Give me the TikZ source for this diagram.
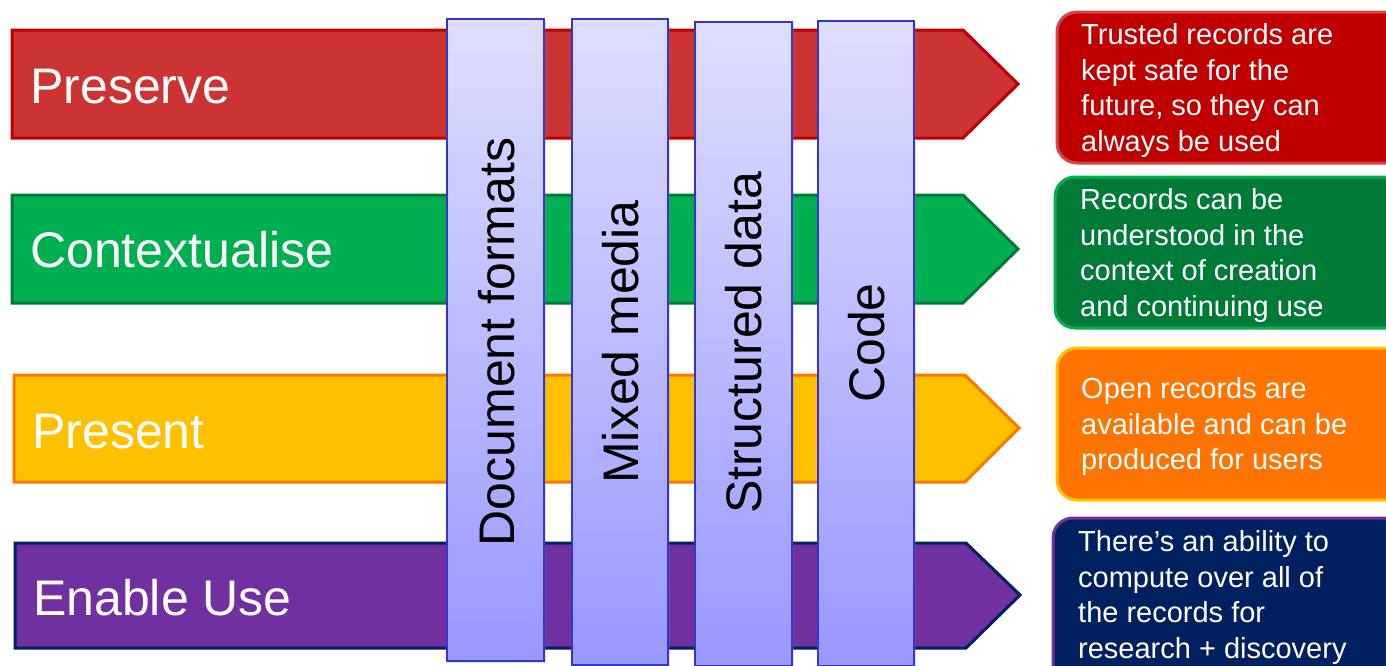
\documentclass[tikz,border=0pt]{standalone}
\usepackage{fontspec}
\setmainfont{Liberation Sans}
\usetikzlibrary{shadows}
\definecolor{redfill}{HTML}{CC3333}
\definecolor{redline}{HTML}{C00000}
\definecolor{grnfill}{HTML}{00B050}
\definecolor{grnline}{HTML}{007A37}
\definecolor{yelfill}{HTML}{FFC000}
\definecolor{orgline}{HTML}{FF7700}
\definecolor{orgfill}{HTML}{FF7300}
\definecolor{purfill}{HTML}{7030A0}
\definecolor{navy}{HTML}{002060}
\definecolor{redbox}{HTML}{C00000}
\definecolor{redboxline}{HTML}{D04848}
\definecolor{bartop}{HTML}{DEDEFF}
\definecolor{barbot}{HTML}{9898FF}
\definecolor{barline}{HTML}{3535CC}
\tikzset{
  band/.style={line width=3pt, line join=miter},
  bandlabel/.style={anchor=base west, inner sep=0pt, text=white, font=\fontsize{50}{60}\selectfont},
  barbox/.style={rectangle, draw=barline, line width=2.5pt, top color=bartop, bottom color=barbot, inner sep=0pt,
     drop shadow={shadow xshift=2pt, shadow yshift=-2pt, opacity=0.25}},
  barlabel/.style={rotate=90, inner sep=0pt, text=black, font=\fontsize{50}{60}\selectfont},
  infobox/.style={line width=3pt, rounded corners=20pt},
  infotext/.style={anchor=north west, inner sep=0pt, align=left, text=white, font=\fontsize{29}{35.5}\selectfont}
}
\begin{document}
\begin{tikzpicture}[x=1pt, y=-1pt]
\useasboundingbox (0,0) rectangle (1386,665);
\clip (0,0) rectangle (1386,665);
% bands
\draw[band, fill=redfill, draw=redline] (12,30) -- (963,30) -- (1018,84) -- (963,138) -- (12,138) -- cycle;
\draw[band, fill=grnfill, draw=grnline] (12,195) -- (963,195) -- (1018,249) -- (963,303) -- (12,303) -- cycle;
\draw[band, fill=yelfill, draw=orgline] (14,375) -- (965,375) -- (1019,428) -- (965,482) -- (14,482) -- cycle;
\draw[band, fill=purfill, draw=navy] (15,543) -- (966,543) -- (1020,595) -- (966,648) -- (15,648) -- cycle;
\node[bandlabel] (lpreserve) at (30,103) {Preserve};
\node[bandlabel] (lcontext) at (30,267) {Contextualise};
\node[bandlabel] (lpresent) at (32,448) {Present};
\node[bandlabel] (lenable) at (33,615) {Enable Use};
% vertical bars
\node[barbox, minimum width=97pt, minimum height=642pt] (b1) at (495.5,340) {};
\node[barbox, minimum width=96pt, minimum height=646pt] (b2) at (620,342) {};
\node[barbox, minimum width=97pt, minimum height=644pt] (b3) at (743.5,344) {};
\node[barbox, minimum width=96pt, minimum height=645pt] (b4) at (866,343.5) {};
\node[barlabel] (t1) at (497,342) {Document formats};
\node[barlabel] (t2) at (621,342) {Mixed media};
\node[barlabel] (t3) at (744,343) {Structured data};
\node[barlabel] (t4) at (867,343) {Code};
% info boxes
\draw[infobox, fill=redbox, draw=redboxline] (1057,12) rectangle (1410,163);
\draw[infobox, fill=grnline, draw=grnfill] (1055,177) rectangle (1410,328);
\draw[infobox, fill=orgfill, draw=yelfill] (1057,348) rectangle (1410,500);
\draw[infobox, fill=navy, draw=purfill] (1053,518) rectangle (1410,700);
\node[infotext] (i1) at (1081,23.5) {Trusted records are\\kept safe for the\\future, so they can\\always be used};
\node[infotext] (i2) at (1080,188.5) {Records can be\\understood in the\\context of creation\\and continuing use};
\node[infotext] (i3) at (1081,377.5) {Open records are\\available and can be\\produced for users};
\node[infotext] (i4) at (1078,530.5) {There’s an ability to\\compute over all of\\the records for\\research + discovery};
\end{tikzpicture}
\end{document}
